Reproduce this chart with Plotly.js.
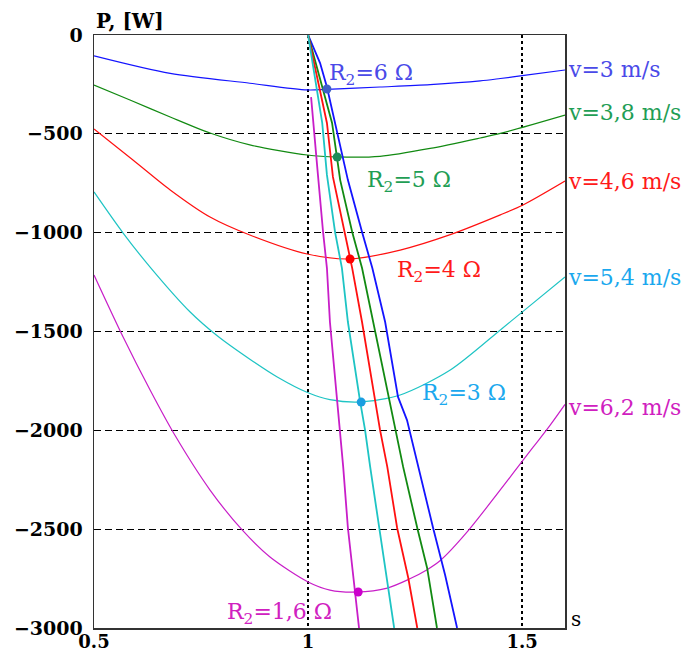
<!DOCTYPE html>
<html><head><meta charset="utf-8">
<script src="https://cdn.plot.ly/plotly-3.0.1.min.js"></script>
<style>html,body{margin:0;padding:0;background:#fff}</style>
</head><body><div id="chart" style="width:693px;height:655px"></div>
<script>
// ---- data (s = slip, P = power in W) ----
const speedLabels = ['v=3 m/s', 'v=3,8 m/s', 'v=4,6 m/s', 'v=5,4 m/s', 'v=6,2 m/s'];
const speedLabelP = [-177, -390, -739, -1229, -1882];

// P(s) curves for each wind speed
const curveS_v3  = [0.5, 0.678, 0.864, 0.998, 1.044, 1.168, 1.285, 1.402, 1.449, 1.5, 1.6];
const curveP_v3  = [-105, -194, -244, -278, -275, -263, -251, -232, -220, -206, -177];
const curveS_v38 = [0.5, 0.584, 0.678, 0.771, 0.864, 0.998, 1.068, 1.168, 1.285, 1.402, 1.449, 1.6];
const curveP_v38 = [-253, -329, -415, -496, -556, -607, -617, -614, -574, -521, -498, -405];
const curveS_v46 = [0.5, 0.591, 0.678, 0.771, 0.864, 0.998, 1.098, 1.215, 1.332, 1.449, 1.502, 1.6];
const curveP_v46 = [-476, -632, -784, -921, -1012, -1108, -1133, -1088, -1010, -910, -860, -739];
const curveS_v54 = [0.5, 0.568, 0.631, 0.724, 0.787, 0.864, 0.928, 1.0, 1.051, 1.121, 1.215, 1.332, 1.449, 1.502, 1.6];
const curveP_v54 = [-794, -1002, -1174, -1400, -1520, -1640, -1730, -1810, -1845, -1857, -1821, -1695, -1492, -1398, -1224];
const curveS_v62 = [0.5, 0.568, 0.631, 0.689, 0.771, 0.846, 0.911, 1.0, 1.051, 1.114, 1.185, 1.234, 1.278, 1.308, 1.371, 1.526, 1.565, 1.6];
const curveP_v62 = [-1214, -1528, -1796, -2025, -2302, -2504, -2641, -2767, -2808, -2818, -2798, -2755, -2705, -2660, -2515, -2084, -1975, -1869];

// steep characteristics for each rotor resistance
const resLabels = ['R<sub>2</sub>=6 Ω', 'R<sub>2</sub>=5 Ω', 'R<sub>2</sub>=4 Ω', 'R<sub>2</sub>=3 Ω', 'R<sub>2</sub>=1,6 Ω'];
const resLabelS = [1.044, 1.133, 1.203, 1.262, 0.806];
const resLabelP = [-202, -739, -1194, -1821, -2929];

const lineS_R6  = [1.0, 1.028, 1.044, 1.063, 1.093, 1.126, 1.150, 1.180, 1.210, 1.231, 1.257, 1.292, 1.320, 1.348];
const lineP_R6  = [0, -142, -263, -445, -734, -997, -1179, -1452, -1831, -1948, -2185, -2494, -2732, -3000];
const lineS_R5  = [1.0, 1.056, 1.075, 1.103, 1.126, 1.152, 1.187, 1.203, 1.222, 1.255, 1.278, 1.301];
const lineP_R5  = [0, -445, -734, -997, -1179, -1452, -1831, -1998, -2185, -2494, -2696, -3000];
const lineS_R4  = [1.0, 1.044, 1.058, 1.086, 1.103, 1.126, 1.157, 1.168, 1.185, 1.208, 1.234, 1.255];
const lineP_R4  = [0, -445, -718, -997, -1179, -1452, -1847, -1998, -2185, -2494, -2747, -3000];
const lineS_R3  = [1.0, 1.033, 1.044, 1.063, 1.079, 1.093, 1.121, 1.133, 1.145, 1.166, 1.187, 1.201];
const lineP_R3  = [0, -445, -708, -997, -1179, -1452, -1847, -1998, -2185, -2494, -2798, -3000];
const lineS_R16 = [1.007, 1.012, 1.023, 1.035, 1.044, 1.051, 1.068, 1.075, 1.082, 1.093, 1.110, 1.119];
const lineP_R16 = [-314, -445, -708, -997, -1179, -1452, -1847, -1998, -2185, -2494, -2818, -3000];

// operating points (dots)
const pointS = [1.044, 1.068, 1.098, 1.124, 1.117];
const pointP = [-273, -617, -1133, -1857, -2818];

const yTicks = [0, -500, -1000, -1500, -2000, -2500, -3000];
const xTicks = [0.5, 1, 1.5];
const xTickText = ['0.5', '1', '1.5'];

// ---- styles ----
const lineColors = ['#1414ff', '#128a12', '#ff1010', '#1ec4c4', '#c81ec8'];
const textColors = ['#4a4ae8', '#1f9e55', '#ff1a1a', '#1aa8ee', '#d020c0'];
const dotColors  = ['#3d5fc8', '#1e8c5a', '#ff0000', '#1a9ee0', '#cc00cc'];

const curves = [[curveS_v3, curveP_v3], [curveS_v38, curveP_v38], [curveS_v46, curveP_v46], [curveS_v54, curveP_v54], [curveS_v62, curveP_v62]];
const lines = [[lineS_R6, lineP_R6], [lineS_R5, lineP_R5], [lineS_R4, lineP_R4], [lineS_R3, lineP_R3], [lineS_R16, lineP_R16]];

const traces = [];
curves.forEach((c, i) => traces.push({x: c[0], y: c[1], mode: 'lines',
  line: {color: lineColors[i], width: 1.2, shape: 'spline', smoothing: 0.8}, hoverinfo: 'skip'}));
lines.forEach((c, i) => traces.push({x: c[0], y: c[1], mode: 'lines',
  line: {color: lineColors[i], width: 1.8}, hoverinfo: 'skip'}));
traces.push({x: pointS, y: pointP, mode: 'markers', marker: {color: dotColors, size: 9}, hoverinfo: 'skip'});

const serif = 'DejaVu Serif';
const annotations = [];
speedLabels.forEach((t, i) => annotations.push({
  text: t, xref: 'paper', x: 1, xanchor: 'left', xshift: 1, yref: 'y', y: speedLabelP[i], yanchor: 'middle',
  showarrow: false, font: {family: serif, size: 22, color: textColors[i]}
}));
resLabels.forEach((t, i) => annotations.push({
  text: t, xref: 'x', x: resLabelS[i], xanchor: 'left', yref: 'y', y: resLabelP[i], yanchor: 'middle',
  showarrow: false, font: {family: serif, size: 22, color: textColors[i]}
}));
annotations.push({text: '<b>P, [W]</b>', xref: 'paper', x: 0, xanchor: 'left', xshift: 0, yref: 'paper', y: 1, yanchor: 'bottom',
  showarrow: false, font: {family: serif, size: 20, color: '#000'}});
annotations.push({text: 's', xref: 'paper', x: 1, xanchor: 'left', xshift: 4, yref: 'y', y: -2955, yanchor: 'middle',
  showarrow: false, font: {family: serif, size: 20, color: '#000'}});

const layout = {
  width: 693, height: 655,
  margin: {l: 94, r: 128, t: 35, b: 27, pad: 0},
  paper_bgcolor: '#fff', plot_bgcolor: '#fff',
  showlegend: false,
  xaxis: {
    range: [0.5, 1.6], tickvals: xTicks, ticktext: xTickText,
    showgrid: true, gridcolor: '#000', gridwidth: 2, griddash: '3px,3px',
    showline: true, mirror: true, linecolor: '#333', linewidth: 1.5,
    zeroline: false, ticks: '', tickfont: {family: serif, size: 18, color: '#000', weight: 'bold'},
    ticklabelstandoff: -3
  },
  yaxis: {
    range: [-3000, 0], tickvals: yTicks,
    showgrid: true, gridcolor: '#000', gridwidth: 1.2, griddash: '7px,4px',
    showline: true, mirror: true, linecolor: '#333', linewidth: 1.5,
    zeroline: false, ticks: '', tickfont: {family: serif, size: 19, color: '#000', weight: 'bold'},
    ticklabelstandoff: 6
  },
  annotations: annotations
};

Plotly.newPlot('chart', traces, layout, {displayModeBar: false, staticPlot: true});
</script></body></html>
